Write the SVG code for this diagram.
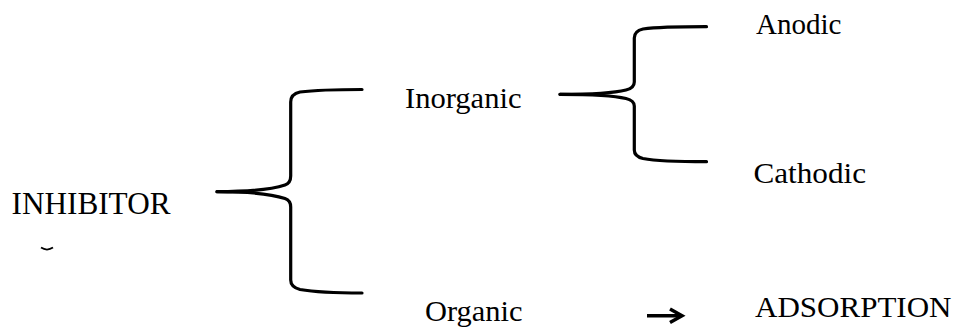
<svg xmlns="http://www.w3.org/2000/svg" width="955" height="329" viewBox="0 0 955 329">
  <style>
    .t { font-family: "Liberation Serif", "Times New Roman", serif; font-size: 30px; fill: #000; }
    .b { fill: none; stroke: #000; stroke-width: 3.2; stroke-linecap: round; stroke-linejoin: round; }
    .ar { fill: none; stroke: #000; stroke-width: 3.5; }
  </style>
  <rect width="955" height="329" fill="#fff"/>

  <g id="inhibitor">
    <text class="t" x="11.5" y="214" style="font-size:32px" textLength="159" lengthAdjust="spacingAndGlyphs">INHIBITOR</text>
    <path d="M41,247.6 Q47,251.5 53,247.6" fill="none" stroke="#000" stroke-width="1.8"/>
  </g>
  <g id="inorganic">
    <text class="t" x="405" y="107.5" textLength="116.5" lengthAdjust="spacingAndGlyphs">Inorganic</text>
  </g>
  <g id="organic">
    <text class="t" x="425" y="320.7" textLength="97.5" lengthAdjust="spacingAndGlyphs">Organic</text>
  </g>
  <g id="anodic">
    <text class="t" x="756" y="33.5" textLength="85.5" lengthAdjust="spacingAndGlyphs">Anodic</text>
  </g>
  <g id="cathodic">
    <text class="t" x="753.5" y="182.5" textLength="112.5" lengthAdjust="spacingAndGlyphs">Cathodic</text>
  </g>
  <g id="adsorption">
    <text class="t" x="755" y="317.3" textLength="196.5" lengthAdjust="spacingAndGlyphs">ADSORPTION</text>
  </g>

  <g id="connectors">
    <path class="b" d="M217,191.7 C250,191.7 270,190 285,185 Q290.7,183 290.7,176 L290.7,102 Q290.7,94 300,92 Q320,89.5 362,89.5"/>
    <path class="b" d="M217,191.7 C250,191.7 270,193.5 285,198.5 Q290.7,200.5 290.7,207 L290.7,280 Q290.7,287 300,289.5 Q320,293 362,293"/>
    <path class="b" d="M560,94.3 C590,94.3 612,93.5 626,90 Q634.3,88 634.3,82 L634.3,38 Q634.3,31 643,29 Q660,26.7 706.5,26.7"/>
    <path class="b" d="M560,94.3 C590,94.3 612,95 626,98.5 Q634.3,100.5 634.3,106 L634.3,150 Q634.3,156.5 643,158.5 Q660,161.7 706.5,161.7"/>
    <path class="ar" d="M647,315.8 L681,315.8"/>
    <path class="ar" d="M670,309 L682,315.8 L670,322.6"/>
  </g>
</svg>
